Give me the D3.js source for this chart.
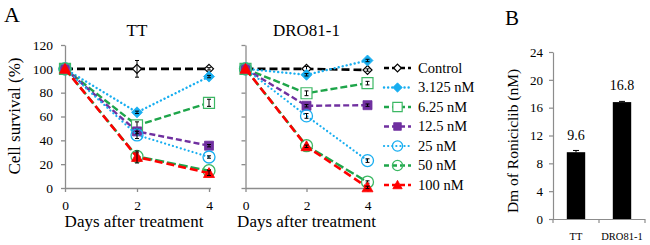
<!DOCTYPE html>
<html><head><meta charset="utf-8">
<script src="https://cdn.jsdelivr.net/npm/d3@7"></script>
<style>body{margin:0;background:#fff}</style>
</head><body><svg id="c" width="650" height="245"></svg>
<script>
const days = [0, 2, 4];
const seriesNames = ["Control", "3.125 nM", "6.25 nM", "12.5 nM", "25 nM", "50 nM", "100 nM"];
const ttValues = [
  [100, 100, 100],
  [100, 63.5, 93.5],
  [100, 52.5, 71.5],
  [100, 47.5, 35.5],
  [100, 44.5, 26],
  [100, 26.5, 14.5],
  [100, 26, 12.5]
];
const ttErrors = [
  [0, 7, 1], [0, 1, 1], [0, 3, 3], [0, 2, 1], [0, 3, 1], [0, 3, 1], [0, 5, 2]
];
const droValues = [
  [100, 100, 99],
  [100, 95, 107],
  [100, 79.5, 88],
  [100, 69, 69.5],
  [100, 60.5, 23],
  [100, 35.5, 5],
  [100, 35, 0.5]
];
const droErrors = [
  [0, 2, 1], [0, 1, 1], [0, 2, 1.5], [0, 1, 1], [0, 2, 1.5], [0, 1, 1], [0, 1, 1]
];
const yTicksA = [0, 20, 40, 60, 80, 100, 120];
const barCategories = ["TT", "DRO81-1"];
const barValues = [9.6, 16.8];
const barErrors = [0.25, 0.1];
const yTicksB = [0, 4, 8, 12, 16, 20, 24];

const FONT = "Liberation Serif";
const BLUE = "#18aef0", GREEN = "#1ea54a", PURPLE = "#7030a0", RED = "#ff0000";
const styles = [
  {color: "#000", dash: "8,4", w: 2.6, marker: "diamond", fill: "#fff", stroke: "#000", size: 9},
  {color: BLUE, dash: "dot", w: 2.4, marker: "diamond", fill: BLUE, stroke: BLUE, size: 11},
  {color: GREEN, dash: "7,3", w: 2.4, marker: "square", fill: "#fff", stroke: "#3cb864", size: 11},
  {color: PURPLE, dash: "6,3", w: 2.4, marker: "square", fill: PURPLE, stroke: PURPLE, size: 9},
  {color: BLUE, dash: "dot", w: 2.2, marker: "circle", fill: "none", stroke: BLUE, size: 12},
  {color: GREEN, dash: "9,3", w: 2.4, marker: "circle", fill: "none", stroke: "#3cb864", size: 12},
  {color: RED, dash: "8,4", w: 2.6, marker: "triangle", fill: RED, stroke: RED, size: 11}
];

const svg = d3.select("#c");
const AX = "#8c8c8c";

function txt(sel) { return sel.style("font-family", FONT).attr("fill", "#000"); }

function markerPath(type, s) {
  const h = s / 2;
  if (type === "diamond") return `M0,${-h}L${h},0L0,${h}L${-h},0Z`;
  if (type === "square") return `M${-h},${-h}H${h}V${h}H${-h}Z`;
  if (type === "triangle") return `M0,${-h}L${h},${h*0.8}L${-h},${h*0.8}Z`;
  return null;
}
function drawMarker(g, st, x, y) {
  if (st.marker === "circle") {
    g.append("circle").attr("cx", x).attr("cy", y).attr("r", st.size / 2)
      .attr("fill", "none").attr("stroke", st.stroke).attr("stroke-width", 1.3);
  } else {
    g.append("path").attr("d", markerPath(st.marker, st.size)).attr("transform", `translate(${x},${y})`)
      .attr("fill", st.fill).attr("stroke", st.stroke).attr("stroke-width", st.fill === "#fff" ? 1.2 : 0.8);
  }
}
function styleLine(p, st, legend) {
  p.attr("stroke", st.color).attr("stroke-width", st.w).attr("fill", "none");
  if (st.dash === "dot") p.attr("stroke-dasharray", "0.1,4").attr("stroke-linecap", "round");
  else p.attr("stroke-dasharray", legend ? "5,3" : st.dash);
}

const y = d3.scaleLinear().domain([0, 120]).range([188, 45]);

function panel(x0, x1, values, errors, title, showLabels, labelShift) {
  const x = d3.scaleLinear().domain([0, 4]).range([x0, x1]);
  const g = svg.append("g");
  const ya = g.append("g").attr("transform", `translate(${x0},0)`)
    .call(d3.axisLeft(y).tickValues(yTicksA).tickSize(4).tickPadding(8).tickSizeOuter(0)
      .tickFormat(showLabels ? d3.format("d") : () => ""));
  const xa = g.append("g").attr("transform", `translate(0,188)`)
    .call(d3.axisBottom(x).tickValues(days).tickSize(4).tickPadding(8).tickSizeOuter(0).tickFormat(d3.format("d")));
  [ya, xa].forEach(a => {
    a.selectAll("path,line").attr("stroke", AX).attr("stroke-width", 1.3);
    txt(a.selectAll("text")).attr("font-size", 13.5);
  });
  xa.select(".domain").attr("d", `M${x0},0.5H${x1 + 2}`);
  txt(g.append("text")).attr("x", (x0 + x1) / 2).attr("y", 36).attr("text-anchor", "middle")
    .attr("font-size", 17).text(title);
  txt(g.append("text")).attr("x", (x0 + x1) / 2 + labelShift).attr("y", 227).attr("text-anchor", "middle")
    .attr("font-size", 17).text("Days after treatment");
  const line = d3.line().x((d, i) => x(days[i])).y(d => y(d));
  values.forEach((vals, si) => {
    const st = styles[si];
    const sg = g.append("g");
    styleLine(sg.append("path").attr("d", line(vals)), st, false);
    vals.forEach((v, i) => drawMarker(sg, st, x(days[i]), y(v)));
    vals.forEach((v, i) => {
      const e = errors[si][i];
      if (e > 0.5) {
        const cx = x(days[i]);
        sg.append("path").attr("d", `M${cx},${y(v + e)}V${y(v - e)}M${cx - 2},${y(v + e)}H${cx + 2}M${cx - 2},${y(v - e)}H${cx + 2}`)
          .attr("stroke", "#000").attr("stroke-width", 1).attr("fill", "none");
      }
    });
  });
}

panel(65, 209, ttValues, ttErrors, "TT", true, -3);
panel(245.5, 367.5, droValues, droErrors, "DRO81-1", false, 0);

txt(svg.append("text")).attr("x", 4).attr("y", 22).attr("font-size", 22).text("A");
txt(svg.append("text")).attr("transform", "translate(20,116) rotate(-90)").attr("text-anchor", "middle")
  .attr("font-size", 17).text("Cell survival (%)");

// legend
const lg = svg.append("g");
seriesNames.forEach((name, i) => {
  const st = styles[i];
  const ly = 68 + i * 19.5;
  styleLine(lg.append("path").attr("d", `M384,${ly}H411`), st, true);
  drawMarker(lg, Object.assign({}, st, {size: st.size * 0.85}), 397.5, ly);
  txt(lg.append("text")).attr("x", 418).attr("y", ly + 4.5).attr("font-size", 14.5).text(name);
});

// Panel B
const yb = d3.scaleLinear().domain([0, 24]).range([219, 52]);
const xb = d3.scaleBand().domain(barCategories).range([553, 645]).paddingInner(0.6).paddingOuter(0.3);
const gb = svg.append("g");
const yba = gb.append("g").attr("transform", "translate(553,0)")
  .call(d3.axisLeft(yb).tickValues(yTicksB).tickSize(4).tickPadding(6).tickSizeOuter(0));
yba.selectAll("path,line").attr("stroke", AX).attr("stroke-width", 1.2);
txt(yba.selectAll("text")).attr("font-size", 13);
gb.append("path").attr("d", "M553,219.5H645").attr("stroke", AX).attr("stroke-width", 1.2);
[553, 599, 645].forEach(tx => gb.append("path").attr("d", `M${tx},219V223`).attr("stroke", AX).attr("stroke-width", 1.2));
barCategories.forEach((c, i) => {
  const bx = xb(c), bw = xb.bandwidth();
  gb.append("rect").attr("x", bx).attr("y", yb(barValues[i])).attr("width", bw)
    .attr("height", yb(0) - yb(barValues[i])).attr("fill", "#000");
  const cx = bx + bw / 2;
  const e = barErrors[i];
  gb.append("path").attr("d", `M${cx},${yb(barValues[i] + e)}V${yb(barValues[i])}M${cx - 3},${yb(barValues[i] + e)}H${cx + 3}`)
    .attr("stroke", "#000").attr("stroke-width", 1);
  txt(gb.append("text")).attr("x", cx).attr("y", yb(barValues[i]) - 12).attr("text-anchor", "middle")
    .attr("font-size", 14).text(barValues[i].toFixed(1));
  txt(gb.append("text")).attr("x", cx).attr("y", 240).attr("text-anchor", "middle")
    .attr("font-size", 10.5).text(c);
});
txt(svg.append("text")).attr("x", 505).attr("y", 25).attr("font-size", 21).text("B");
txt(svg.append("text")).attr("transform", "translate(518,141) rotate(-90)").attr("text-anchor", "middle")
  .attr("font-size", 15.5).text("Dm of Roniciclib (nM)");
</script></body></html>
